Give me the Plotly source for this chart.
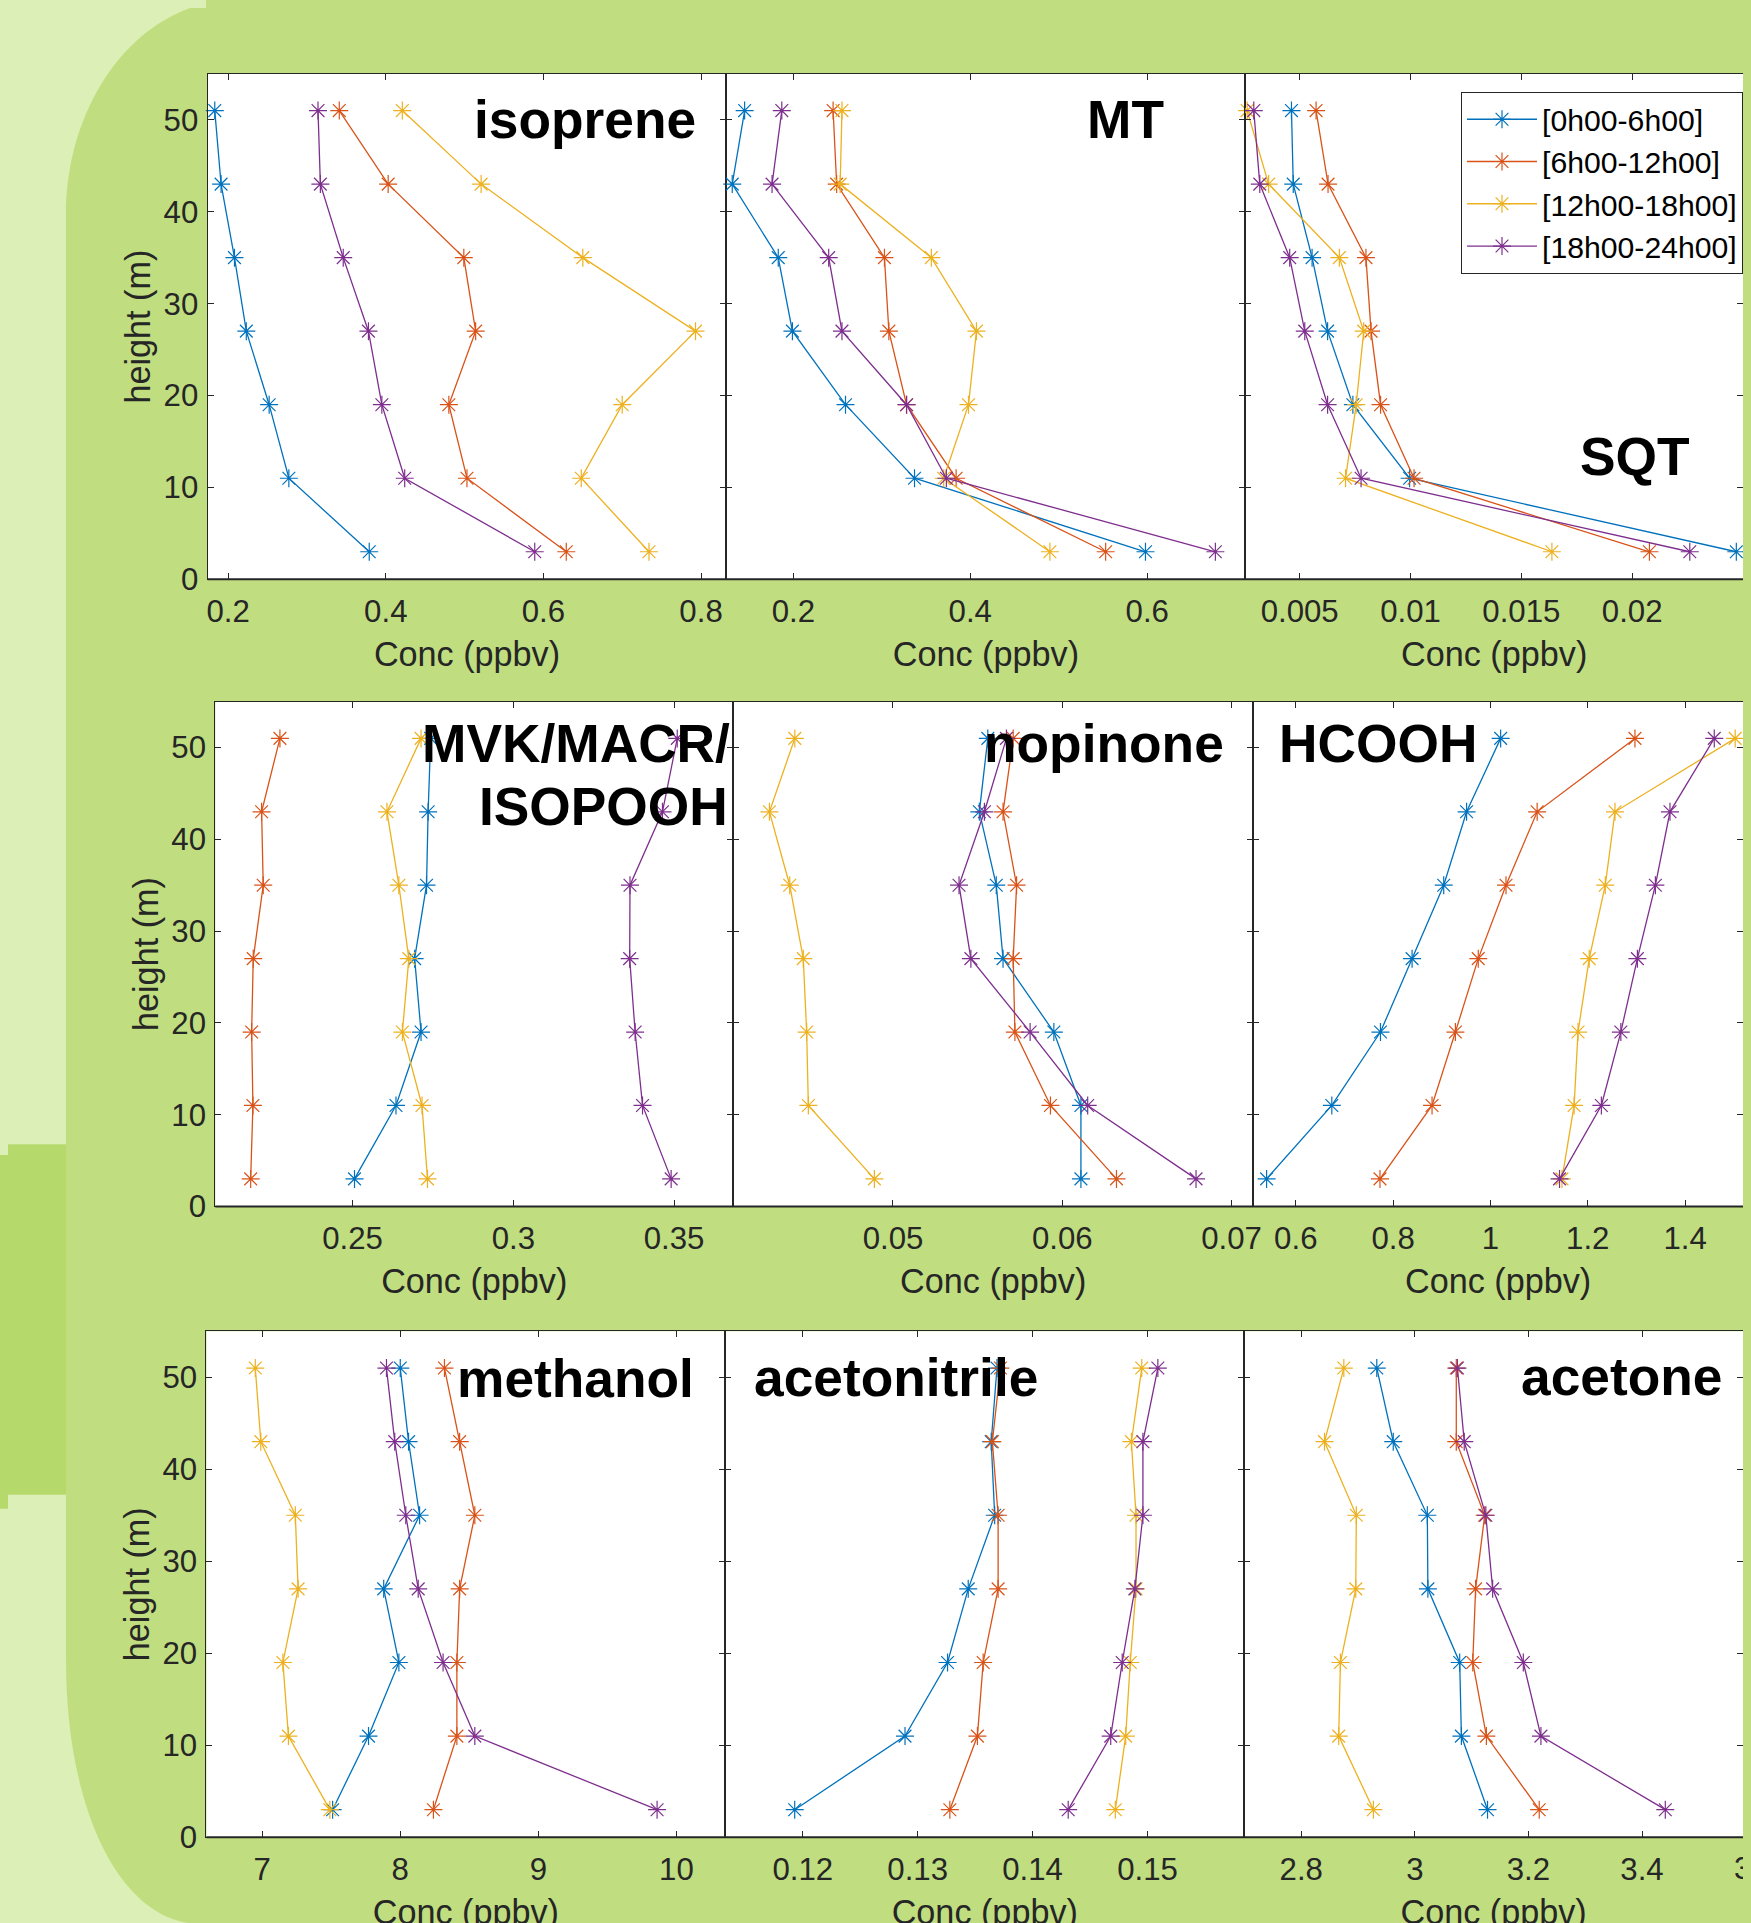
import plotly.graph_objects as go

# The picture is W x H; the browser shows a slightly larger CSS area (CW x CH)
# squeezed into it, so all picture-pixel positions are mapped through KX/KY.
W, H = 1751, 1923
CW, CH = 1760, 1942
KX, KY = CW / W, CH / H
M = 8                              # default body margin of the page
FW, FH = CW - 2 * M, CH - 2 * M    # figure size: fills the page inside the margin
FONT = "Liberation Sans, Arial, Helvetica, sans-serif"
AX = "#262626"

# ---------------- data ----------------
heights = [51, 43, 35, 27, 19, 11, 3]
periods = ["[0h00-6h00]", "[6h00-12h00]", "[12h00-18h00]", "[18h00-24h00]"]
colors = ["#0072BD", "#D95319", "#EDB120", "#7E2F8E"]

# each list: one period, values at heights 51 -> 3 m (ppbv)
isoprene = [
    [0.183, 0.191, 0.208, 0.223, 0.252, 0.277, 0.379],
    [0.341, 0.403, 0.499, 0.514, 0.480, 0.503, 0.629],
    [0.421, 0.521, 0.650, 0.793, 0.700, 0.648, 0.734],
    [0.314, 0.317, 0.346, 0.378, 0.395, 0.424, 0.589],
]
mt = [
    [0.145, 0.131, 0.183, 0.199, 0.259, 0.337, 0.598],
    [0.245, 0.249, 0.303, 0.308, 0.328, 0.384, 0.553],
    [0.255, 0.253, 0.356, 0.407, 0.398, 0.370, 0.490],
    [0.187, 0.176, 0.240, 0.255, 0.328, 0.373, 0.677],
]
sqt = [
    [0.00463, 0.00471, 0.00556, 0.00626, 0.00740, 0.00996, 0.02470],
    [0.00574, 0.00628, 0.00799, 0.00822, 0.00865, 0.01016, 0.02078],
    [0.00263, 0.00360, 0.00679, 0.00789, 0.00755, 0.00707, 0.01638],
    [0.00293, 0.00320, 0.00455, 0.00523, 0.00626, 0.00777, 0.02260],
]
mvk_macr_isopooh = [
    [0.2743, 0.2735, 0.2730, 0.2693, 0.2713, 0.2635, 0.2506],
    [0.2274, 0.2217, 0.2222, 0.2191, 0.2186, 0.2190, 0.2183],
    [0.2713, 0.2607, 0.2644, 0.2675, 0.2655, 0.2716, 0.2733],
    [0.3510, 0.3464, 0.3363, 0.3362, 0.3379, 0.3402, 0.3491],
]
nopinone = [
    [0.0556, 0.0551, 0.0561, 0.0565, 0.0595, 0.0611, 0.0611],
    [0.0571, 0.0565, 0.0573, 0.0571, 0.0572, 0.0593, 0.0632],
    [0.0442, 0.0427, 0.0439, 0.0447, 0.0449, 0.0450, 0.0489],
    [0.0567, 0.0554, 0.0539, 0.0546, 0.0581, 0.0615, 0.0679],
]
hcooh = [
    [1.021, 0.951, 0.904, 0.839, 0.774, 0.674, 0.540],
    [1.297, 1.096, 1.032, 0.975, 0.928, 0.880, 0.773],
    [1.503, 1.256, 1.236, 1.203, 1.180, 1.172, 1.147],
    [1.460, 1.369, 1.339, 1.302, 1.268, 1.228, 1.142],
]
methanol = [
    [8.00, 8.06, 8.14, 7.88, 7.99, 7.77, 7.51],
    [8.32, 8.43, 8.54, 8.43, 8.41, 8.41, 8.24],
    [6.95, 6.99, 7.24, 7.26, 7.15, 7.19, 7.49],
    [7.90, 7.96, 8.04, 8.13, 8.31, 8.54, 9.86],
]
acetonitrile = [
    [0.1369, 0.1364, 0.1367, 0.1344, 0.1326, 0.1289, 0.1193],
    [0.1372, 0.1365, 0.1370, 0.1370, 0.1357, 0.1352, 0.1328],
    [0.1495, 0.1486, 0.1490, 0.1490, 0.1485, 0.1481, 0.1472],
    [0.1509, 0.1496, 0.1496, 0.1489, 0.1478, 0.1468, 0.1431],
]
acetone = [
    [2.933, 2.962, 3.022, 3.023, 3.079, 3.082, 3.128],
    [3.073, 3.073, 3.123, 3.107, 3.102, 3.126, 3.219],
    [2.875, 2.841, 2.897, 2.896, 2.869, 2.866, 2.927],
    [3.075, 3.087, 3.125, 3.137, 3.191, 3.222, 3.441],
]

panel_data = [isoprene, mt, sqt, mvk_macr_isopooh, nopinone, hcooh,
              methanol, acetonitrile, acetone]

# tick values / labels
y_tickvals = [0, 10, 20, 30, 40, 50]
y_ticktext = ["0", "10", "20", "30", "40", "50"]
x_tickvals = [
    [0.2, 0.4, 0.6, 0.8],
    [0.2, 0.4, 0.6],
    [0.005, 0.01, 0.015, 0.02, 0.025],
    [0.25, 0.3, 0.35],
    [0.05, 0.06, 0.07],
    [0.6, 0.8, 1.0, 1.2, 1.4],
    [7, 8, 9, 10],
    [0.12, 0.13, 0.14, 0.15],
    [2.8, 3.0, 3.2, 3.4, 3.6],
]
x_ticktext = [
    ["0.2", "0.4", "0.6", "0.8"],
    ["0.2", "0.4", "0.6"],
    ["0.005", "0.01", "0.015", "0.02", "0.025"],
    ["0.25", "0.3", "0.35"],
    ["0.05", "0.06", "0.07"],
    ["0.6", "0.8", "1", "1.2", "1.4"],
    ["7", "8", "9", "10"],
    ["0.12", "0.13", "0.14", "0.15"],
    ["2.8", "3", "3.2", "3.4", "3.6"],
]
# axis limits; for the third column the upper value is where the picture edge cuts it
x_ranges = [
    [0.1738, 0.8323], [0.1245, 0.7109], [0.00255, 0.02536],
    [0.2073, 0.3684], [0.04056, 0.07128], [0.5126, 1.5354],
    [6.596, 10.354], [0.11326, 0.15842], [2.6997, 3.5918],
]
y_range = [0, 55]

# ---------------- geometry (pixels of the final picture) ----------------
row_tops = [73.7, 701.3, 1330.6]
row_bottoms = [579.0, 1205.8, 1836.4]
col_edges = [
    [206.6, 725.9, 1245.1, 1751.0],
    [214.4, 732.6, 1253.0, 1751.0],
    [205.5, 724.7, 1244.0, 1751.0],
]

# panel titles: text, x (px), baseline (px), anchor
titles = [
    ("isoprene", 697.5, 138.5, "right"),
    ("MT", 1165.5, 138.5, "right"),
    ("SQT", 1692.5, 475.5, "right"),
    ("MVK/MACR/", 731.0, 762.3, "right"),
    ("ISOPOOH", 729.5, 826.0, "right"),
    ("nopinone", 1226.0, 762.3, "right"),
    ("HCOOH", 1276.7, 762.3, "left"),
    ("methanol", 695.5, 1397.0, "right"),
    ("acetonitrile", 751.2, 1396.4, "left"),
    ("acetone", 1724.5, 1395.0, "right"),
]

GREEN = "#c0de80"
LIGHT = "#dbefb6"
BAND = "#b6d96c"


def fs(size):
    """font size in picture px -> CSS px"""
    return round(size * KX, 1)


def px(x):
    """picture x (px) -> paper fraction of the figure"""
    return (x * KX - M) / FW


def py(y):
    """picture y (px) -> paper fraction of the figure"""
    return 1 - (y * KY - M) / FH


def path_of(cmds):
    out = []
    for c in cmds:
        if c[0] == "Z":
            out.append("Z")
        else:
            pts = " ".join(f"{px(a):.5f},{py(b):.5f}" for a, b in c[1:])
            out.append(c[0] + pts)
    return " ".join(out)


X_EDGE = (M + FW) / KX     # picture x where the figure ends

fig = go.Figure()

for p in range(9):
    suf = "" if p == 0 else str(p + 1)
    for k in range(4):
        fig.add_trace(go.Scatter(
            x=panel_data[p][k], y=heights, mode="lines+markers",
            name=periods[k], showlegend=(p == 0),
            xaxis="x" + suf, yaxis="y" + suf,
            line=dict(color=colors[k], width=1.3),
            marker=dict(symbol="asterisk-open", size=15, color=colors[k],
                        line=dict(color=colors[k], width=1.2)),
            cliponaxis=False,
        ))

layout = {}
shapes = []
annotations = []

# background decorations (outside the plot areas)
shapes.append(dict(type="path", xref="paper", yref="paper", layer="below",
                   fillcolor=LIGHT, line=dict(width=0),
                   path=path_of([("M", (0, 0)), ("L", (235, 0)),
                                 ("C", (141, 0), (65, 97), (65, 215)),
                                 ("L", (65, 1144)), ("L", (0, 1144)), ("Z",)])))
shapes.append(dict(type="rect", xref="paper", yref="paper", layer="below",
                   x0=px(0), x1=px(65), y0=py(1494), y1=py(1144),
                   fillcolor=BAND, line=dict(width=0)))
shapes.append(dict(type="path", xref="paper", yref="paper", layer="below",
                   fillcolor=LIGHT, line=dict(width=0),
                   path=path_of([("M", (0, 1494)), ("L", (65, 1494)), ("L", (65, 1660)),
                                 ("C", (65, 1810), (120, 1923), (200, 1923)),
                                 ("L", (0, 1923)), ("Z",)])))

for p in range(9):
    r, c = divmod(p, 3)
    suf = "" if p == 0 else str(p + 1)
    x0, x1 = col_edges[r][c], col_edges[r][c + 1]
    lo, hi = x_ranges[p]
    x1_fig = min(x1, X_EDGE)
    hi_fig = lo + (hi - lo) * (x1_fig - x0) / (x1 - x0)
    layout["xaxis" + suf] = dict(
        domain=[px(x0), min(1.0, px(x1_fig))], range=[lo, hi_fig], anchor="y" + suf,
        tickmode="array", tickvals=x_tickvals[p], ticktext=x_ticktext[p],
        ticks="inside", ticklen=6, tickwidth=1, tickcolor=AX,
        showline=True, linewidth=1, linecolor=AX, mirror="ticks",
        showgrid=False, zeroline=False, ticklabelstandoff=4,
        tickfont=dict(size=fs(31), color=AX, family=FONT),
        title=dict(text="Conc (ppbv)", font=dict(size=fs(34), color=AX, family=FONT), standoff=14),
    )
    layout["yaxis" + suf] = dict(
        domain=[py(row_bottoms[r]), py(row_tops[r])], range=y_range, anchor="x" + suf,
        tickmode="array", tickvals=y_tickvals, ticktext=y_ticktext,
        ticks="inside", ticklen=6, tickwidth=1, tickcolor=AX,
        showline=True, linewidth=1, linecolor=AX, mirror="ticks",
        showgrid=False, zeroline=False, showticklabels=(c == 0),
        ticklabelstandoff=2,
        tickfont=dict(size=fs(31), color=AX, family=FONT),
        title=dict(text="height (m)" if c == 0 else "",
                   font=dict(size=fs(34), color=AX, family=FONT), standoff=2),
    )
    # thicker bottom axis line
    xr = ("x" if p == 0 else "x" + suf) + " domain"
    yr = ("y" if p == 0 else "y" + suf) + " domain"
    shapes.append(dict(type="line", xref=xr, yref=yr, x0=0, x1=1, y0=0, y1=0,
                       layer="above", line=dict(color=AX, width=2)))

    # tick labels that sit past the visible edge (partly visible, as in the original)
    if c == 2:
        for v, t in zip(x_tickvals[p], x_ticktext[p]):
            if v > hi_fig:
                xpos_px = x0 + (v - lo) / (hi - lo) * (x1 - x0)
                annotations.append(dict(
                    text=t, x=px(xpos_px), y=py(row_bottoms[r] + 31),
                    xref="paper", yref="paper",
                    xanchor="center", yanchor="middle", showarrow=False,
                    font=dict(size=fs(31), color=AX, family=FONT)))

for text, x, base, anc in titles:
    annotations.append(dict(
        text=f"<b>{text}</b>", x=px(x), y=py(base + 12), xref="paper", yref="paper",
        xanchor=anc, yanchor="bottom", showarrow=False,
        font=dict(size=fs(53), color="black", family=FONT)))

fig.update_layout(
    width=FW, height=FH, autosize=False,
    margin=dict(l=0, r=0, t=0, b=0, pad=0),
    paper_bgcolor=GREEN, plot_bgcolor="white",
    font=dict(family=FONT, color=AX),
    showlegend=True,
    legend=dict(x=min(1.0, px(1745)), xanchor="right", y=py(92), yanchor="top",
                bgcolor="white", bordercolor=AX, borderwidth=1,
                font=dict(size=fs(30), color="black", family=FONT),
                itemwidth=70, tracegroupgap=0),
    shapes=shapes, annotations=annotations,
    **layout,
)

# colour the page margin around the figure like the neighbouring background
R = M + FW
bg_layers = [
    f"linear-gradient({LIGHT},{LIGHT}) 0px 0px/{M}px {1144 * KY:.0f}px no-repeat",
    f"linear-gradient({BAND},{BAND}) 0px {1144 * KY:.0f}px/{M}px {350 * KY:.0f}px no-repeat",
    f"linear-gradient({LIGHT},{LIGHT}) 0px {1494 * KY:.0f}px/{M}px {CH:.0f}px no-repeat",
    f"linear-gradient({LIGHT},{LIGHT}) 0px 0px/{205 * KX:.0f}px {M}px no-repeat",
    f"linear-gradient({LIGHT},{LIGHT}) 0px {CH - M}px/{180 * KX:.0f}px {M}px no-repeat",
]
for r in range(3):
    top, bot = row_tops[r] * KY, row_bottoms[r] * KY
    bg_layers.append(f"linear-gradient(#ffffff,#ffffff) {R}px {top:.0f}px/{M + 40}px {bot - top:.0f}px no-repeat")
    bg_layers.append(f"linear-gradient({AX},{AX}) {R}px {top:.0f}px/{M + 40}px 1px no-repeat")
    bg_layers.append(f"linear-gradient({AX},{AX}) {R}px {bot - 1:.0f}px/{M + 40}px 2px no-repeat")
bg_layers.append(GREEN)
page_bg = ",".join(bg_layers)

fig.write_html(
    "out.html",
    config={"displayModeBar": False},
    post_script=f"document.body.style.background='{page_bg}';",
)
